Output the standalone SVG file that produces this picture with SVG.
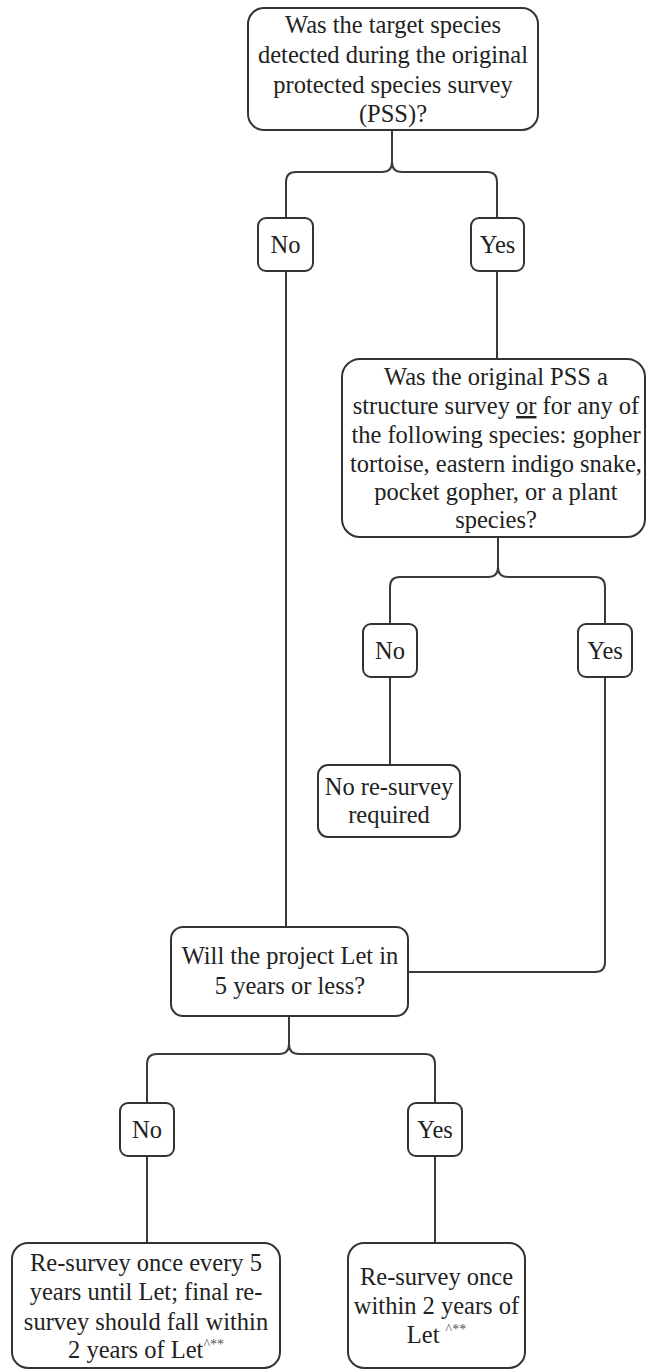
<svg xmlns="http://www.w3.org/2000/svg" width="647" height="1370" viewBox="0 0 647 1370">
<style>
.box{fill:#fff;stroke:#333;stroke-width:2}
.t{font-size:24.5px;fill:#222;text-anchor:middle}
.sup{font-size:14px;fill:#555}
.c{fill:none;stroke:#3a3a3a;stroke-width:2}
</style>
<rect width="647" height="1370" fill="#fff"/>
<g id="connectors">
<path class="c" d="M392,130 V162 Q392,172 382,172 H296 Q286,172 286,182 V218"/>
<path class="c" d="M392,162 Q392,172 402,172 H487 Q497,172 497,182 V218"/>
<path class="c" d="M286,271 V927"/>
<path class="c" d="M497,271 V359"/>
<path class="c" d="M498,537 V567 Q498,577 488,577 H400 Q390,577 390,587 V624"/>
<path class="c" d="M498,567 Q498,577 508,577 H595 Q605,577 605,587 V624"/>
<path class="c" d="M390,677 V765"/>
<path class="c" d="M605,677 V962 Q605,972 595,972 H408"/>
<path class="c" d="M289,1016 V1044 Q289,1054 279,1054 H157 Q147,1054 147,1064 V1103"/>
<path class="c" d="M289,1044 Q289,1054 299,1054 H425 Q435,1054 435,1064 V1103"/>
<path class="c" d="M147,1156 V1243"/>
<path class="c" d="M435,1156 V1243"/>
</g>
<g id="q1" font-family="Liberation Serif, serif">
<rect class="box" x="248" y="8" width="290" height="122" rx="16"/>
<text class="t" x="393" y="33">Was the target species</text>
<text class="t" x="393" y="63">detected during the original</text>
<text class="t" x="393" y="93">protected species survey</text>
<text class="t" x="393" y="122">(PSS)?</text>
</g>
<g id="no1" font-family="Liberation Serif, serif">
<rect class="box" x="258" y="218" width="55" height="53" rx="8"/>
<text class="t" x="285.5" y="253">No</text>
</g>
<g id="yes1" font-family="Liberation Serif, serif">
<rect class="box" x="471" y="218" width="53" height="53" rx="8"/>
<text class="t" x="497.5" y="253">Yes</text>
</g>
<g id="q2" font-family="Liberation Serif, serif">
<rect class="box" x="342" y="359" width="303" height="178" rx="18"/>
<text class="t" x="496" y="385">Was the original PSS a</text>
<text class="t" x="496" y="414">structure survey <tspan text-decoration="underline">or</tspan> for any of</text>
<text class="t" x="496" y="443">the following species: gopher</text>
<text class="t" x="496" y="472">tortoise, eastern indigo snake,</text>
<text class="t" x="496" y="500">pocket gopher, or a plant</text>
<text class="t" x="496" y="528">species?</text>
</g>
<g id="no2" font-family="Liberation Serif, serif">
<rect class="box" x="363" y="624" width="54" height="53" rx="8"/>
<text class="t" x="390" y="659">No</text>
</g>
<g id="yes2" font-family="Liberation Serif, serif">
<rect class="box" x="578" y="624" width="54" height="53" rx="8"/>
<text class="t" x="605" y="659">Yes</text>
</g>
<g id="noresurvey" font-family="Liberation Serif, serif">
<rect class="box" x="318" y="765" width="142" height="72" rx="10"/>
<text class="t" x="389" y="795">No re-survey</text>
<text class="t" x="389" y="823">required</text>
</g>
<g id="q3" font-family="Liberation Serif, serif">
<rect class="box" x="171" y="927" width="237" height="89" rx="12"/>
<text class="t" x="290" y="964">Will the project Let in</text>
<text class="t" x="290" y="994">5 years or less?</text>
</g>
<g id="no3" font-family="Liberation Serif, serif">
<rect class="box" x="120" y="1103" width="54" height="53" rx="8"/>
<text class="t" x="147" y="1138">No</text>
</g>
<g id="yes3" font-family="Liberation Serif, serif">
<rect class="box" x="408" y="1103" width="54" height="53" rx="8"/>
<text class="t" x="435" y="1138">Yes</text>
</g>
<g id="resurvey5" font-family="Liberation Serif, serif">
<rect class="box" x="12" y="1243" width="268" height="125" rx="16"/>
<text class="t" x="146" y="1271">Re-survey once every 5</text>
<text class="t" x="146" y="1300">years until Let; final re-</text>
<text class="t" x="146" y="1330">survey should fall within</text>
<text class="t" x="146" y="1358">2 years of Let<tspan class="sup" dy="-9">^**</tspan></text>
</g>
<g id="resurvey2" font-family="Liberation Serif, serif">
<rect class="box" x="348" y="1243" width="177" height="125" rx="16"/>
<text class="t" x="436.5" y="1285">Re-survey once</text>
<text class="t" x="436.5" y="1314">within 2 years of</text>
<text class="t" x="436.5" y="1343">Let <tspan class="sup" dy="-9">^**</tspan></text>
</g>
</svg>
